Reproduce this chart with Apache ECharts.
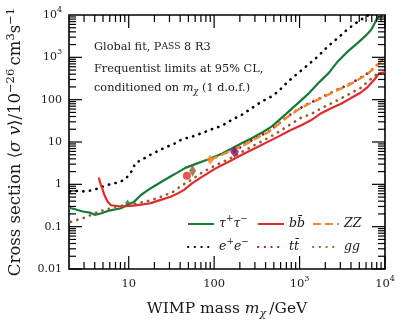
<!DOCTYPE html>
<html>
<head>
<meta charset="utf-8">
<script src="https://cdn.jsdelivr.net/npm/echarts@6/dist/echarts.min.js"></script>
<style>
html, body { margin: 0; padding: 0; background: #fff; }
#chart { width: 407px; height: 325px; }
</style>
</head>
<body>
<div id="chart"></div>
<script>
// limits: WIMP mass (GeV) -> <sigma v> (1e-26 cm^3 s^-1)
const tauMass = [2, 2.3, 2.9, 3.5, 4.0, 4.8, 5.9, 8.1, 9.7, 11.6, 13.9, 16.6, 19.8, 25.9, 33.8, 46, 60, 86, 123, 161, 210, 275, 360, 470, 670, 960, 1300, 1640, 2200, 2800, 3700, 4800, 6000, 6900, 7600, 8100, 8800];
const tauSigma = [0.28, 0.262, 0.228, 0.215, 0.19, 0.207, 0.24, 0.272, 0.33, 0.39, 0.56, 0.72, 0.9, 1.25, 1.7, 2.45, 3.0, 3.9, 5.3, 7.0, 9.3, 12.3, 16.5, 23, 43, 83, 145, 240, 430, 800, 1400, 2200, 3300, 4500, 6500, 8500, 10000];

const eeMass = [2.05, 2.66, 3.18, 3.79, 4.54, 5.19, 6.21, 7.41, 8.87, 10.1, 11.1, 11.9, 14.2, 16.5, 19.4, 22.6, 27.1, 32.3, 42.3, 55.2, 72, 94, 123, 161, 211, 275, 360, 470, 562, 735, 961, 1256, 1641, 2143, 2803, 3663, 4786, 6000, 7000];
const eeSigma = [0.68, 0.70, 0.67, 0.74, 0.81, 0.92, 1.02, 1.10, 1.27, 1.67, 2.19, 3.16, 3.79, 4.53, 5.45, 6.28, 7.55, 8.5, 11.7, 13.4, 16.2, 20.1, 24.1, 33.4, 43.9, 63, 90, 119, 156, 269, 425, 667, 1049, 1808, 2857, 4662, 6900, 9200, 11000];

const bbMass = [4.46, 4.7, 4.88, 5.19, 5.67, 6.21, 8.1, 10.6, 13.9, 18.1, 23.7, 31, 38, 45, 50, 55, 72, 103, 148, 211, 301, 430, 562, 780, 1050, 1371, 1791, 2342, 3062, 4000, 5230, 6260, 7490, 8560, 10000];
const bbSigma = [1.44, 1.0, 0.81, 0.56, 0.39, 0.32, 0.30, 0.31, 0.33, 0.36, 0.43, 0.51, 0.62, 0.75, 0.9, 1.05, 1.5, 2.35, 3.4, 5.0, 7.1, 10.2, 13.4, 19, 25, 33, 48, 63, 80, 109, 148, 198, 295, 425, 440];

const ggMass = [2.1, 2.66, 3.18, 3.97, 4.76, 5.4, 6.5, 8.1, 9.7, 11.6, 13.9, 17.3, 20.7, 25.9, 33.2, 42, 55, 72, 100, 150, 210, 300, 430, 560, 780, 1000, 1400, 1800, 2300, 3000, 4000, 5200, 6300, 7500, 9000];
const ggSigma = [0.13, 0.15, 0.167, 0.207, 0.239, 0.248, 0.288, 0.31, 0.33, 0.344, 0.37, 0.41, 0.46, 0.54, 0.67, 0.95, 1.3, 1.9, 2.7, 4.0, 5.8, 8.5, 12.5, 17, 26, 36, 47, 63, 80, 105, 143, 190, 268, 360, 470];

const zzMass = [90, 123, 161, 220, 329, 430, 562, 735, 961, 1256, 1641, 2143, 2800, 3663, 4786, 6300, 7500, 9000, 9600];
const zzSigma = [3.8, 5.0, 6.3, 8.3, 13, 17, 26, 40, 58, 78, 100, 130, 170, 215, 290, 410, 560, 800, 900];

const ttMass = [173, 220, 329, 430, 562, 735, 961, 1256, 1641, 2143, 2800, 3663, 4786, 6300, 7500, 9000, 9600];
const ttSigma = [5.9, 8.5, 13.4, 17.5, 26.5, 41, 59, 80, 103, 134, 175, 222, 300, 420, 575, 820, 920];

// best-fit points
const tauBest = [9.7, 0.36];
const bbBest = [48, 1.6];
const ggBest = [56, 2.1];
const zzBest = [90, 3.8];
const ttBest = [173, 5.9];

// axis ticks
const xDecades = [1, 10, 100, 1000];
const yDecades = [0.01, 0.1, 1, 10, 100, 1000];
const minorSteps = [2, 3, 4, 5, 6, 7, 8, 9];
const xLabels = { 1: '10', 2: '100', 3: '10{s|3}', 4: '10{s|4}' };
const yLabels = { '-2': '0.01', '-1': '0.1', 0: '1', 1: '10', 2: '100', 3: '10{s|3}', 4: '10{s|4}' };

const FONT = 'DejaVu Serif';
const INK = '#1a1a1a';

function pairs(xs, ys) {
  return xs.map((x, i) => [x, ys[i]]);
}

function decadeLabel(map) {
  return function (v) {
    const e = Math.log10(v);
    const r = Math.round(e);
    if (Math.abs(e - r) > 1e-6) return '';
    return map[r] || '';
  };
}

const xTicks = [];
xDecades.forEach(d => {
  minorSteps.forEach(k => {
    if (k * d > 2 && k * d < 10000) xTicks.push([k * d, 1, 0]);
  });
  xTicks.push([d * 10, 1, 1]);
});
const yTicks = [];
yDecades.forEach(d => {
  yTicks.push([10, d, 1]);
  minorSteps.forEach(k => yTicks.push([10, k * d, 0]));
});

const tickStyle = { stroke: '#000', lineWidth: 1.2 };

function renderXTick(params, api) {
  const cs = params.coordSys;
  const x = api.coord([api.value(0), 1])[0];
  const len = api.value(2) ? 13 : 7;
  return {
    type: 'group',
    children: [
      { type: 'line', shape: { x1: x, y1: cs.y + cs.height, x2: x, y2: cs.y + cs.height - len }, style: tickStyle },
      { type: 'line', shape: { x1: x, y1: cs.y, x2: x, y2: cs.y + len }, style: tickStyle }
    ]
  };
}

function renderYTick(params, api) {
  const cs = params.coordSys;
  const y = api.coord([10, api.value(1)])[1];
  const len = api.value(2) ? 13 : 7;
  return {
    type: 'group',
    children: [
      { type: 'line', shape: { x1: cs.x, y1: y, x2: cs.x + len, y2: y }, style: tickStyle },
      { type: 'line', shape: { x1: cs.x + cs.width, y1: y, x2: cs.x + cs.width - len, y2: y }, style: tickStyle }
    ]
  };
}

const supStyle = { fontFamily: FONT, fontSize: 8, lineHeight: 9, verticalAlign: 'top', color: INK };

function line(name, data, color, type, width, z) {
  const dotted = type === 'dotted';
  return {
    name: name,
    type: 'line',
    data: data,
    symbol: 'none',
    z: z,
    clip: true,
    lineStyle: {
      color: color,
      width: width,
      type: dotted ? [0.3, 6.4] : (type === 'dashed' ? [8, 4] : 'solid'),
      cap: dotted ? 'round' : 'butt'
    },
    itemStyle: { color: color },
    emphasis: { disabled: true }
  };
}

function point(pt, color, symbol, size) {
  return {
    type: 'scatter',
    data: [pt],
    symbol: symbol,
    symbolSize: size,
    itemStyle: { color: color },
    z: 10,
    silent: true
  };
}

const legendText = {
  tau: '{i|τ}{s|+}{i|τ}{s|−}',
  ee: '{i|e}{s|+}{i|e}{s|−}',
  bb: '{i|bb\u0304}',
  tt: '{i|tt\u0304}',
  ZZ: '{i|ZZ}',
  gg: '{i|gg}'
};

const legendTextStyle = {
  fontFamily: FONT,
  fontSize: 12.5,
  lineHeight: 20,
  color: INK,
  rich: {
    i: { fontFamily: FONT, fontStyle: 'italic', fontSize: 12.5, lineHeight: 20, color: INK },
    s: { fontFamily: FONT, fontSize: 9, lineHeight: 10, verticalAlign: 'top', color: INK }
  }
};

function legendCol(items, left) {
  return {
    data: items,
    orient: 'vertical',
    left: left,
    top: 214,
    itemWidth: 26,
    itemHeight: 14,
    itemGap: 3,
    selectedMode: false,
    padding: 0,
    itemStyle: { opacity: 0 },
    formatter: n => legendText[n],
    textStyle: legendTextStyle
  };
}

const noteStyle = {
  fontFamily: FONT,
  fontSize: 11.3,
  fontWeight: 'normal',
  lineHeight: 16,
  color: INK,
  rich: {
    sc: { fontFamily: FONT, fontSize: 9.2, lineHeight: 16, color: INK },
    i: { fontFamily: FONT, fontStyle: 'italic', fontSize: 11.3, lineHeight: 16, color: INK },
    sub: { fontFamily: FONT, fontStyle: 'italic', fontSize: 8.5, lineHeight: 10, verticalAlign: 'bottom', color: INK }
  }
};

const chart = echarts.init(document.getElementById('chart'));

chart.setOption({
  animation: false,
  backgroundColor: '#fff',
  grid: {
    left: 69, top: 15, width: 316, height: 254,
    show: true, borderColor: '#000', borderWidth: 1.6,
    outerBoundsMode: 'none'
  },
  title: [
    { text: 'Global fit, P{sc|ASS} 8 R3', left: 94, top: 39, padding: 0, textStyle: noteStyle },
    { text: 'Frequentist limits at 95% CL,', left: 94, top: 61, padding: 0, textStyle: noteStyle },
    { text: 'conditioned on {i|m}{sub|χ} (1 d.o.f.)', left: 94, top: 80.5, padding: 0, textStyle: noteStyle }
  ],
  legend: [
    legendCol(['tau', 'ee'], 187),
    legendCol(['bb', 'tt'], 257),
    legendCol(['ZZ', 'gg'], 312)
  ],
  xAxis: {
    type: 'log',
    logBase: 10,
    min: 2,
    max: 10000,
    name: 'WIMP mass {i|m}{sub|χ}\u2009/GeV',
    nameLocation: 'middle',
    nameGap: 22,
    nameTextStyle: {
      fontFamily: FONT, fontSize: 15.5, lineHeight: 22, color: INK,
      rich: {
        i: { fontFamily: FONT, fontStyle: 'italic', fontSize: 15.5, lineHeight: 22, color: INK },
        sub: { fontFamily: FONT, fontStyle: 'italic', fontSize: 11, lineHeight: 12, verticalAlign: 'bottom', color: INK }
      }
    },
    axisLine: { show: false },
    axisTick: { show: false },
    splitLine: { show: false },
    axisLabel: {
      margin: 6,
      fontFamily: FONT, fontSize: 11.5, lineHeight: 18, color: INK,
      formatter: decadeLabel(xLabels),
      rich: { s: supStyle }
    }
  },
  yAxis: {
    type: 'log',
    logBase: 10,
    min: 0.01,
    max: 10000,
    name: 'Cross section \u27e8{i|σ v}\u27e9/10{s|−26}\u2009cm{s|3}s{s|−1}',
    nameLocation: 'middle',
    nameRotate: 90,
    nameGap: 31,
    nameTextStyle: {
      fontFamily: FONT, fontSize: 16.5, lineHeight: 22, color: INK,
      rich: {
        i: { fontFamily: FONT, fontStyle: 'italic', fontSize: 16.5, lineHeight: 22, color: INK },
        s: { fontFamily: FONT, fontSize: 11.5, lineHeight: 12, verticalAlign: 'top', color: INK }
      }
    },
    axisLine: { show: false },
    axisTick: { show: false },
    splitLine: { show: false },
    axisLabel: {
      margin: 7,
      fontFamily: FONT, fontSize: 11, lineHeight: 18, color: INK,
      formatter: decadeLabel(yLabels),
      rich: { s: supStyle }
    }
  },
  series: [
    { type: 'custom', data: xTicks, renderItem: renderXTick, silent: true, z: 20 },
    { type: 'custom', data: yTicks, renderItem: renderYTick, silent: true, z: 20 },
    line('tau', pairs(tauMass, tauSigma), '#177a36', 'solid', 2.2, 3),
    line('ee', pairs(eeMass, eeSigma), '#000000', 'dotted', 2.6, 3),
    line('bb', pairs(bbMass, bbSigma), '#e4292a', 'solid', 2.2, 4),
    line('gg', pairs(ggMass, ggSigma), '#9a5a2c', 'dotted', 2.6, 5),
    line('tt', pairs(ttMass, ttSigma), '#86126a', 'dotted', 2.6, 5),
    line('ZZ', pairs(zzMass, zzSigma), '#f08a24', 'dashed', 2.4, 6),
    point(tauBest, '#177a36', 'diamond', [5, 7]),
    point(bbBest, '#e4292a', 'circle', 8),
    point(ggBest, '#9a5a2c', 'diamond', [7, 12]),
    point(zzBest, '#f08a24', 'diamond', [7, 10]),
    point(ttBest, '#86126a', 'diamond', [9, 12])
  ]
});
</script>
</body>
</html>
